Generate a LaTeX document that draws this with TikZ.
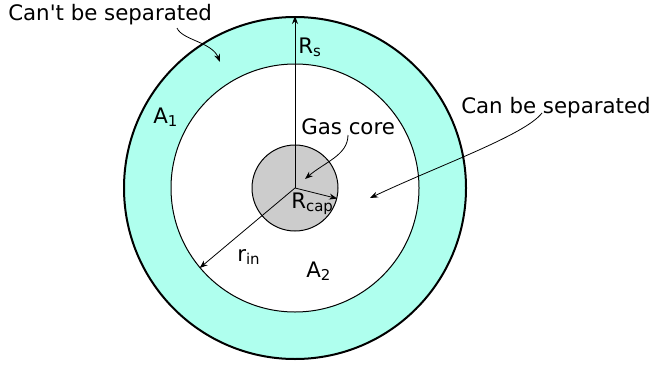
\documentclass[tikz,border=0pt]{standalone}
\usepackage{fontspec}
\setmainfont{DejaVu Sans}
\usetikzlibrary{arrows.meta,positioning,calc}
\definecolor{ringcyan}{HTML}{AFFFEE}
\definecolor{coregray}{HTML}{CCCCCC}

\begin{document}
\begin{tikzpicture}[
    x=0.75pt, y=-0.75pt,
    ring/.style={circle, draw=black, inner sep=0pt, line width=0.75pt},
    lbl/.style={anchor=base west, inner sep=0pt, font=\fontsize{16}{19}\selectfont},
    arrow/.style={-{Stealth[length=6pt, width=4.5pt]}, line width=0.6pt, draw=black}
]
    \useasboundingbox (0,0) rectangle (649,364);
    \coordinate (c) at (295,188);

    % rings
    \node [ring, line width=1.5pt, fill=ringcyan, minimum size=256.5pt] (outer) at (c) {};
    \node [ring, fill=white, minimum size=186pt] (inner) at (c) {};
    \node [ring, fill=coregray, minimum size=64.5pt] (core) at (c) {};

    % radii
    \draw [arrow] (c) -- (outer.north);
    \draw [arrow] (c) -- (inner.-140);
    \draw [arrow] (c) -- (core.-14);

    % labels
    \node [lbl] (cant) at (8,20) {Can\textquotesingle t be separated};
    \node [lbl] (can) at (461,113) {Can be separated};
    \node [lbl] (gas) at (301,134) {Gas core};
    \node [lbl] (rs) at (298,53) {R\textsubscript{s}};
    \node [lbl] (rcap) at (291,208) {R\textsubscript{cap}};
    \node [lbl] (rin) at (237,261) {r\textsubscript{in}};
    \node [lbl] (a1) at (153,123) {A\textsubscript{1}};
    \node [lbl] (a2) at (306,277) {A\textsubscript{2}};

    % pointers
    \coordinate (cantTail) at (177,28);
    \coordinate (cantHead) at (220,62);
    \draw [arrow] (cantTail) .. controls (182,40) and (212,42) .. (cantHead);
    \coordinate (canTail) at (542,113);
    \coordinate (canHead) at (370,198);
    \draw [arrow] (canTail) .. controls (525,135) and (440,165) .. (canHead);
    \coordinate (gasTail) at (348,135);
    \coordinate (gasHead) at (305,179);
    \draw [arrow] (gasTail) .. controls (348,155) and (325,162) .. (gasHead);
\end{tikzpicture}
\end{document}
